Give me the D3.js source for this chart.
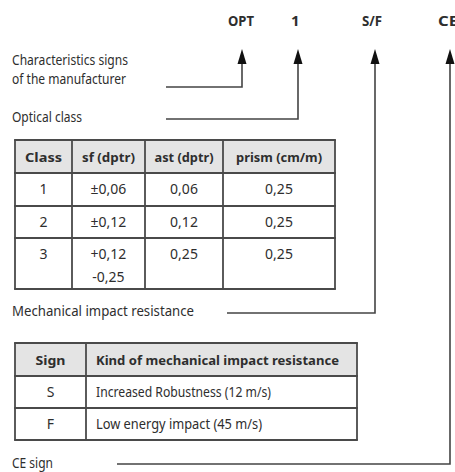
<!DOCTYPE html>
<html>
<head>
<meta charset="utf-8">
<script src="https://cdnjs.cloudflare.com/ajax/libs/d3/7.8.5/d3.min.js"></script>
<style>
  body { margin: 0; background: #fff; }
  svg text { font-family: "Noto Sans", "Open Sans", sans-serif; fill: #2e2e2e; }
</style>
</head>
<body>
<svg id="chart" width="455" height="472"></svg>
<script>
// marking code parts and their explanations
var codes = ["OPT", "1", "S/F", "CE"];
var codeLabels = [["Characteristics signs", "of the manufacturer"], ["Optical class"], ["Mechanical impact resistance"], ["CE sign"]];

// optical class table
var classHeaders = ["Class", "sf (dptr)", "ast (dptr)", "prism (cm/m)"];
var classNames = ["1", "2", "3"];
var sfValues = [["±0,06"], ["±0,12"], ["+0,12", "-0,25"]];
var astValues = ["0,06", "0,12", "0,25"];
var prismValues = ["0,25", "0,25", "0,25"];

// mechanical resistance table
var signHeaders = ["Sign", "Kind of mechanical impact resistance"];
var signs = ["S", "F"];
var signKinds = ["Increased Robustness (12 m/s)", "Low energy impact (45 m/s)"];

// ---- layout (condensed font is imitated with textLength)
var codeX = [242, 298, 375, 450];
var codeTextX = [228, 291, 362, 438];
var codeWidths = [26, null, 20, 20];
var elbowY = [87, 119, 313, 464];
var endX = [166, 166, 227, 117];
var labelY = [[65, 84], [122], [316], [468]];
var labelWidths = [[116, 114], [70], [182], [41]];
var classHeadWidths = [37, 53, 59, 86];
var signHeadWidths = [30, 243];
var signBodyWidths = [null, [175, 166]];

var svg = d3.select("#chart");
var lineCol = "#444";

function fit(sel, w) {
    if (w) sel.attr("textLength", w).attr("lengthAdjust", "spacingAndGlyphs");
}

svg.selectAll("text.code")
    .data(codes)
    .enter().append("text")
    .attr("class", "code")
    .attr("x", (d, i) => codeTextX[i])
    .attr("y", 26)
    .style("font-size", "15px")
    .style("font-weight", "bold")
    .text(d => d)
    .each(function(d, i) { fit(d3.select(this), codeWidths[i]); });

var leaders = svg.selectAll("g.leader")
    .data(codes)
    .enter().append("g").attr("class", "leader");

leaders.append("path")
    .attr("d", (d, i) => "M" + codeX[i] + ",64 V" + elbowY[i] + " H" + endX[i])
    .attr("fill", "none")
    .attr("stroke", lineCol)
    .attr("stroke-width", 1.6);

leaders.append("path")
    .attr("d", (d, i) => "M" + codeX[i] + ",49 L" + (codeX[i] - 4.5) + ",64 L" + (codeX[i] + 4.5) + ",64 Z")
    .attr("fill", "#111");

leaders.each(function(d, i) {
    d3.select(this).selectAll("text")
        .data(codeLabels[i])
        .enter().append("text")
        .attr("x", 12)
        .attr("y", (t, j) => labelY[i][j])
        .style("font-size", "14px")
        .text(t => t)
        .each(function(t, j) { fit(d3.select(this), labelWidths[i][j]); });
});

// ---- generic table drawing
function drawTable(g, colEdges, rowEdges, header, headWidths, rows, bodyWidths, align) {
    var left = colEdges[0], right = colEdges[colEdges.length - 1];
    var top = rowEdges[0], bottom = rowEdges[rowEdges.length - 1];

    g.append("rect")
        .attr("x", left).attr("y", top)
        .attr("width", right - left).attr("height", rowEdges[1] - top)
        .attr("fill", "#e4e4e4");

    g.selectAll("line.h")
        .data(rowEdges)
        .enter().append("line")
        .attr("x1", left - 0.9).attr("x2", right + 0.9)
        .attr("y1", d => d).attr("y2", d => d)
        .attr("stroke", "#4a4a4a").attr("stroke-width", 1.8);

    g.selectAll("line.v")
        .data(colEdges)
        .enter().append("line")
        .attr("y1", top).attr("y2", bottom)
        .attr("x1", d => d).attr("x2", d => d)
        .attr("stroke", "#4a4a4a").attr("stroke-width", 1.8);

    var cx = (c) => align[c] === "start" ? colEdges[c] + 10 : (colEdges[c] + colEdges[c + 1]) / 2;

    g.selectAll("text.head")
        .data(header)
        .enter().append("text")
        .attr("x", (d, c) => cx(c))
        .attr("y", (rowEdges[0] + rowEdges[1]) / 2 + 5)
        .attr("text-anchor", (d, c) => align[c])
        .style("font-size", "13px")
        .style("font-weight", "bold")
        .text(d => d)
        .each(function(d, c) { fit(d3.select(this), headWidths[c]); });

    rows.forEach(function(row, r) {
        var y0 = rowEdges[r + 1];
        row.forEach(function(cell, c) {
            var lines = Array.isArray(cell) ? cell : [cell];
            g.selectAll(null)
                .data(lines)
                .enter().append("text")
                .attr("x", cx(c))
                .attr("y", (t, j) => y0 + 21 + j * 23)
                .attr("text-anchor", align[c])
                .style("font-size", "14px")
                .text(t => t)
                .each(function() {
                    if (bodyWidths && bodyWidths[c]) fit(d3.select(this), bodyWidths[c][r]);
                });
        });
    });
}

var classRows = classNames.map((d, i) => [d, sfValues[i], astValues[i], prismValues[i]]);
drawTable(svg.append("g"), [15, 72, 145, 223, 335], [140, 173, 206, 238, 289],
    classHeaders, classHeadWidths, classRows, null, ["middle", "middle", "middle", "middle"]);

var signRows = signs.map((d, i) => [d, signKinds[i]]);
drawTable(svg.append("g"), [15, 86, 357], [343, 376, 408, 440],
    signHeaders, signHeadWidths, signRows, signBodyWidths, ["middle", "start"]);
</script>
</body>
</html>
